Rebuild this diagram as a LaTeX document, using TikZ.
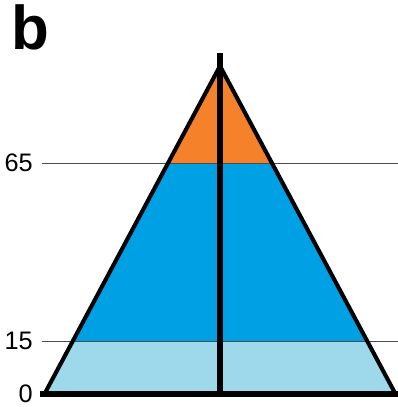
\documentclass[tikz,border=0pt]{standalone}
\usepackage{fontspec}
\setmainfont{Liberation Sans}
\usetikzlibrary{positioning}

\definecolor{oranj}{RGB}{245,130,42}
\definecolor{azul}{RGB}{0,160,228}
\definecolor{celeste}{RGB}{157,217,234}

\tikzset{
	eje/.style={line width=4pt},
	borde/.style={line width=2.9pt, line join=miter},
	guia/.style={line width=0.6pt, black!70},
	edad/.style={anchor=east, inner sep=0pt, font=\fontsize{18}{18}\selectfont}
}

\begin{document}
\begin{tikzpicture}[x=0.025cm, y=-0.025cm]
\useasboundingbox (0,0) rectangle (398,407);

\node[anchor=north west, inner sep=0pt, font=\fontsize{44}{44}\selectfont\bfseries] (B) at (11,4) {b};

% Triangulo
\coordinate (A) at (220,66);
\coordinate (L) at (45,393);
\coordinate (R) at (395,393);

\begin{scope}
	\clip (A) -- (L) -- (R) -- cycle;
	\fill[oranj] (40,50) rectangle (398,163);
	\fill[azul] (40,163) rectangle (398,341);
	\fill[celeste] (40,341) rectangle (398,395);
\end{scope}

% Escala de edades
\foreach \y/\t in {163/65, 341/15} {
	\node[edad] (e\t) at (33,\y) {\t};
	\coordinate (f\t) at (398,\y);
	\draw[guia] (e\t.east) ++(9,0) -- (f\t);
}
\node[edad] (e0) at (33,394) {0};

\draw[borde] (A) -- (L) (A) -- (R);

\coordinate (T) at (220,53);
\coordinate (M) at (220,393);
\draw[eje] (T) -- (M);

\coordinate (Z) at (398,394);
\draw[eje] (e0.east) ++(7,0) -- (Z);
\end{tikzpicture}
\end{document}
